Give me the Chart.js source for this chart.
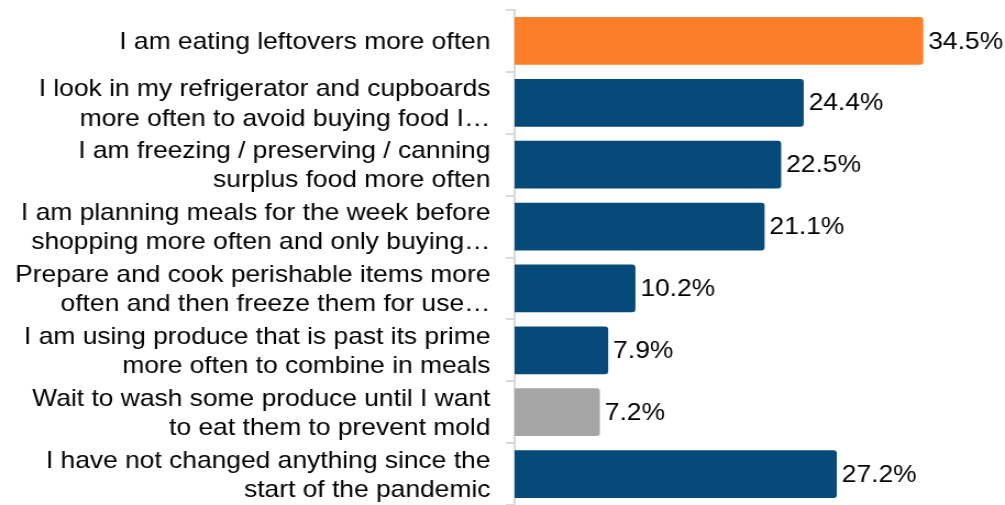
<!DOCTYPE html>
<html>
<head>
<meta charset="utf-8">
<script src="https://cdn.jsdelivr.net/npm/chart.js@4/dist/chart.umd.min.js"></script>
<style>
  html, body { margin: 0; padding: 0; background: #fff; }
</style>
</head>
<body>
<!-- drawn a bit narrower, then widened by CSS so the text gets the wide Excel look -->
<canvas id="behaviourChart" width="914" height="505" style="width:1005px;height:505px"></canvas>
<script>
const categories = [
    'I am eating leftovers more often',
    ['I look in my refrigerator and cupboards', 'more often to avoid buying food I…'],
    ['I am freezing / preserving / canning', 'surplus food more often'],
    ['I am planning meals for the week before', 'shopping more often and only buying…'],
    ['Prepare and cook perishable items more', 'often and then freeze them for use…'],
    ['I am using produce that is past its prime', 'more often to combine in meals'],
    ['Wait to wash some produce until I want', 'to eat them to prevent mold'],
    ['I have not changed anything since the', 'start of the pandemic']
];
const shares = [34.5, 24.4, 22.5, 21.1, 10.2, 7.9, 7.2, 27.2];

const ORANGE = '#fd7e28';
const NAVY = '#064a7a';
const GREY = '#a6a6a6';
const barColors = shares.map((v, i) => i === 0 ? ORANGE : (i === 6 ? GREY : NAVY));

const FONT = "'Liberation Sans', Arial, sans-serif";

// percentage written just past the end of each bar
const valueLabels = {
    id: 'valueLabels',
    afterDatasetsDraw(chart) {
        const ctx = chart.ctx;
        const meta = chart.getDatasetMeta(0);
        ctx.save();
        ctx.font = '24px ' + FONT;
        ctx.fillStyle = '#000';
        ctx.textAlign = 'left';
        ctx.textBaseline = 'middle';
        meta.data.forEach((bar, i) => {
            ctx.fillText(shares[i].toFixed(1) + '%', bar.x + 4.5, bar.y + 1);
        });
        ctx.restore();
    }
};

const canvas = document.getElementById('behaviourChart');
new Chart(canvas, {
    type: 'bar',
    data: {
        labels: categories,
        datasets: [{
            data: shares,
            backgroundColor: barColors,
            borderRadius: 3,
            categoryPercentage: 1,
            barPercentage: 0.77
        }]
    },
    options: {
        indexAxis: 'y',
        responsive: false,
        animation: false,
        layout: { padding: { top: 10, right: 15, bottom: 0, left: 0 } },
        plugins: {
            legend: { display: false },
            tooltip: { enabled: false }
        },
        scales: {
            x: {
                display: false,
                min: 0,
                max: 40
            },
            y: {
                afterFit(scale) {
                    // fixed label column, and no extra room above/below for the two-line labels
                    scale.width = 468;
                    scale.paddingTop = 0;
                    scale.paddingBottom = 0;
                },
                border: { color: '#d9d9d9', width: 2 },
                grid: {
                    offset: true,
                    drawOnChartArea: false,
                    tickLength: 8,
                    color: '#d9d9d9',
                    lineWidth: 2
                },
                ticks: {
                    autoSkip: false,
                    padding: 14,
                    labelOffset: 1.5,
                    color: '#000',
                    font: { family: FONT, size: 24, lineHeight: 1.22 }
                }
            }
        }
    },
    plugins: [valueLabels]
});
</script>
</body>
</html>
